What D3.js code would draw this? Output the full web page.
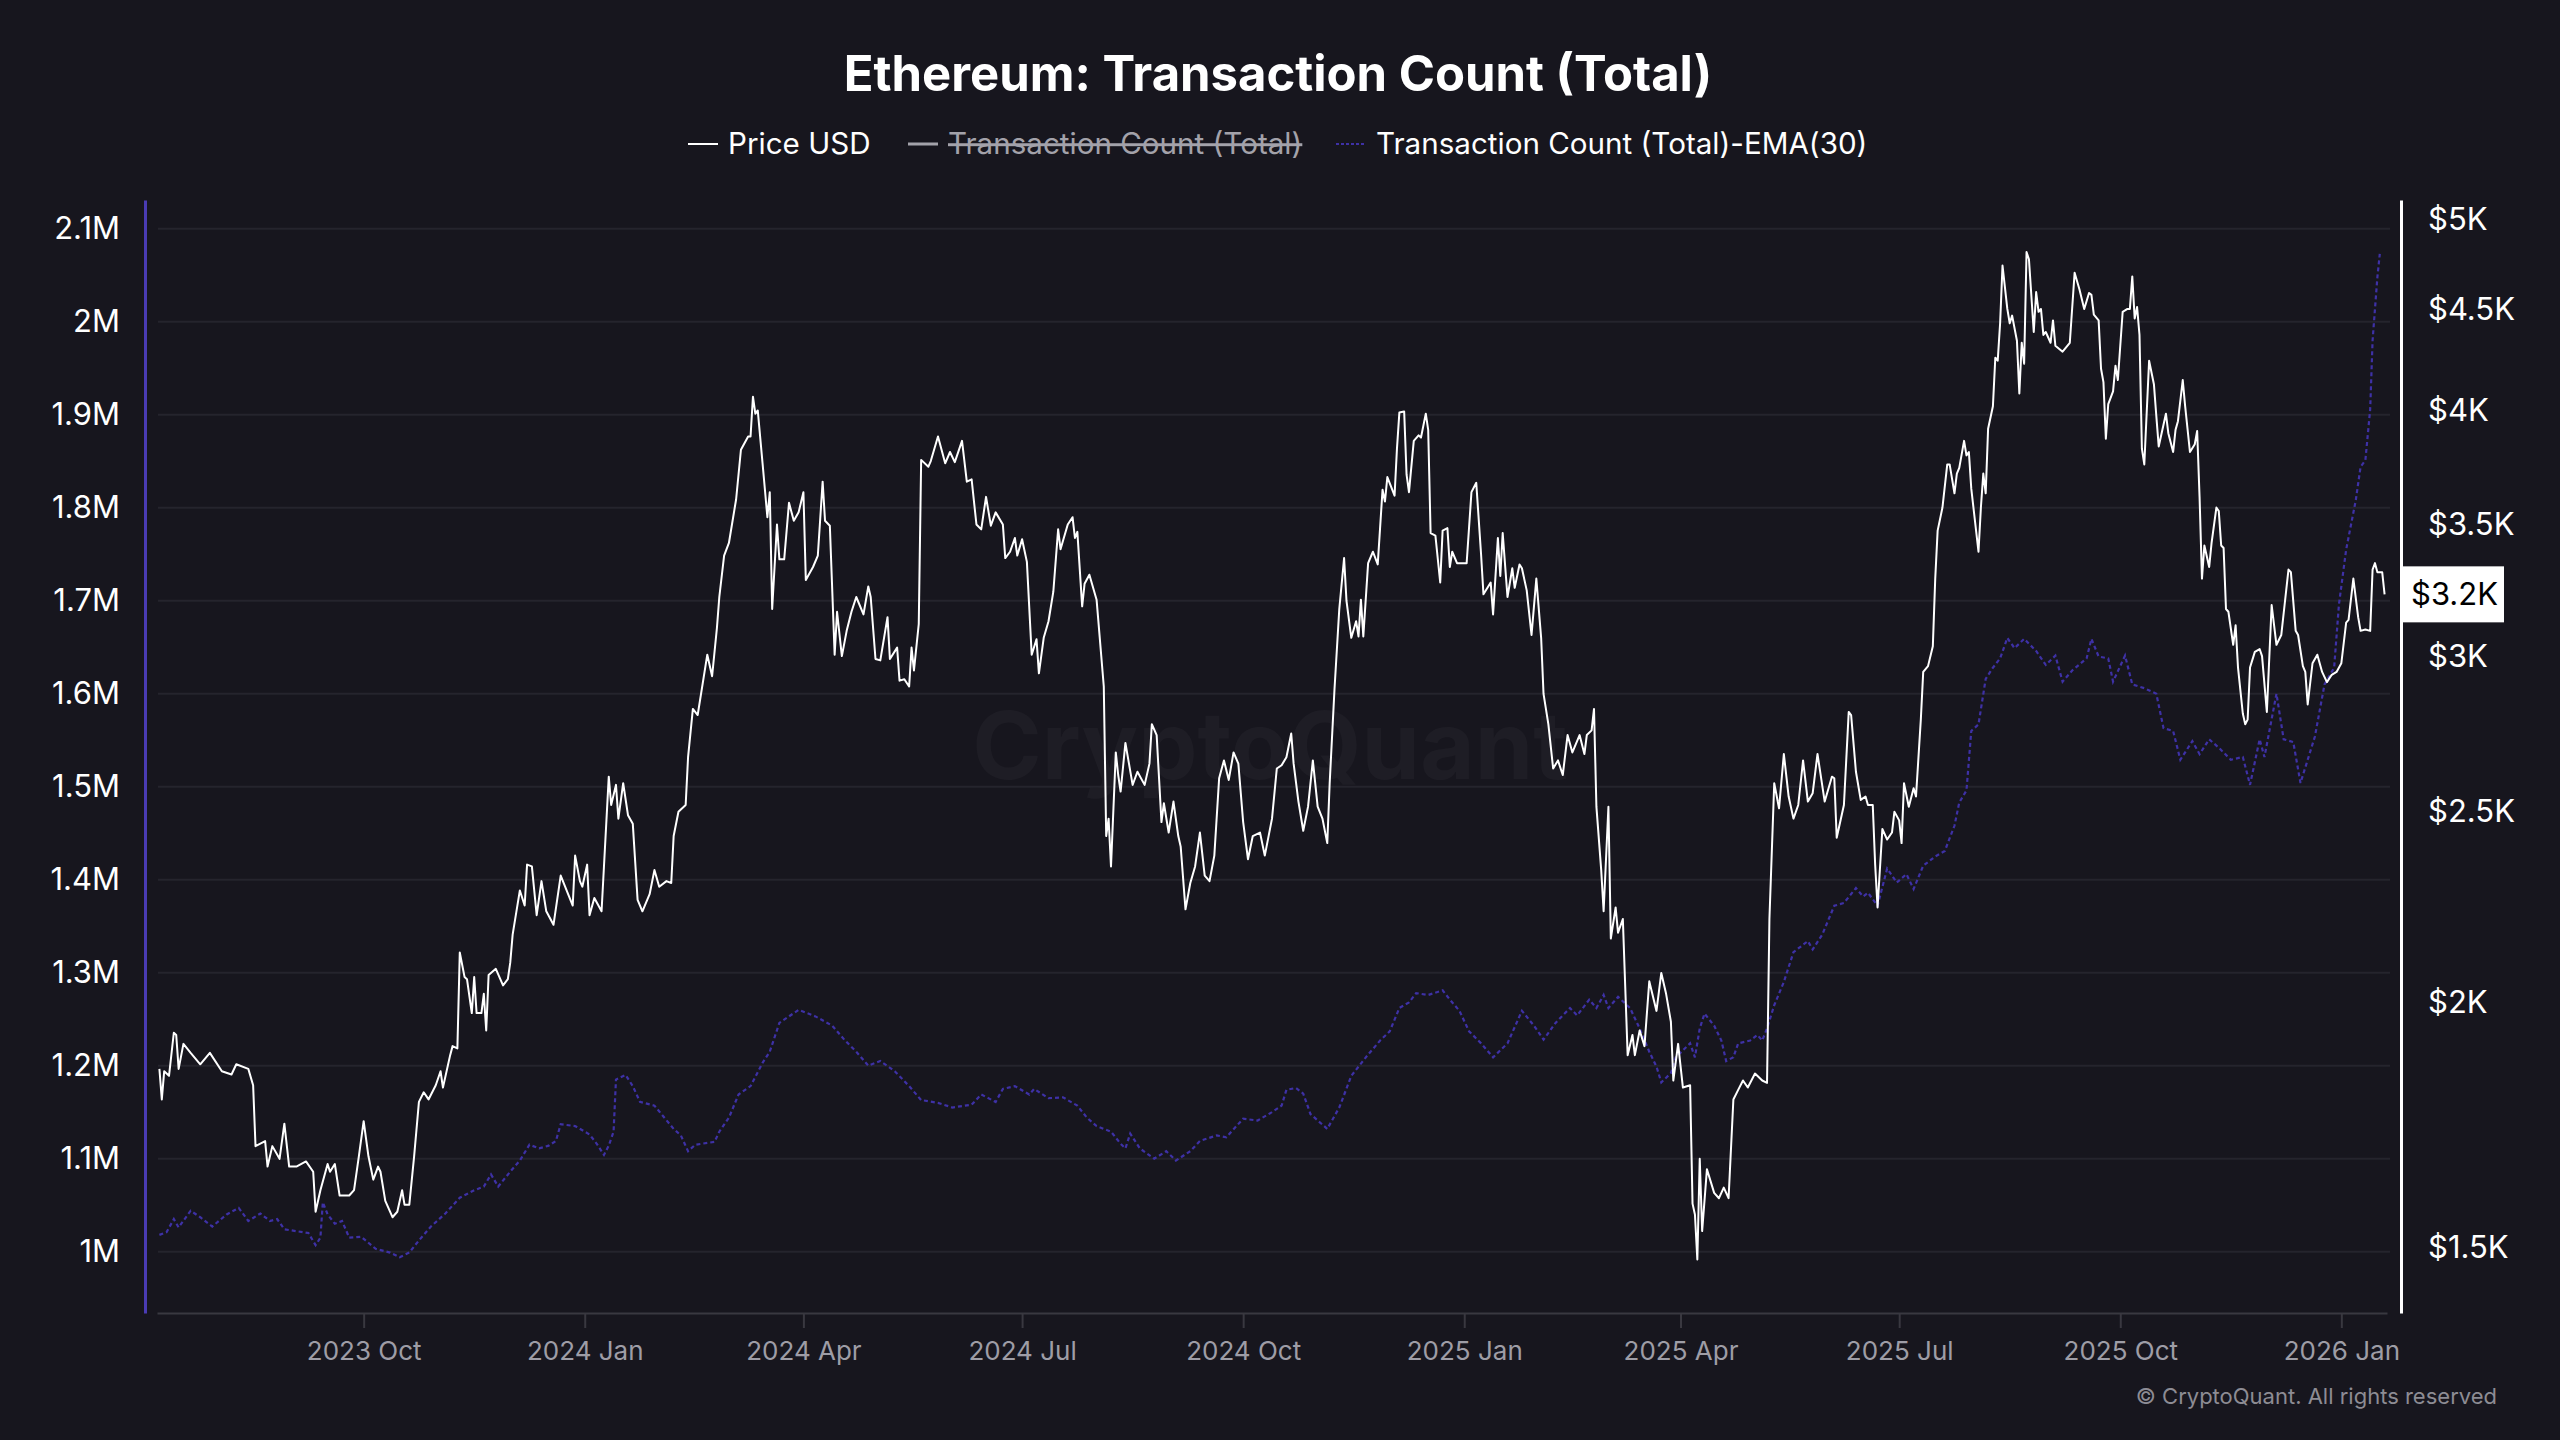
<!DOCTYPE html>
<html>
<head>
<meta charset="utf-8">
<script src="https://cdn.jsdelivr.net/npm/d3@7"></script>
<style>
  body { margin: 0; background: #17161e; }
  svg { display: block; font-family: Inter, "Noto Sans", sans-serif; }
</style>
</head>
<body>
<script>
// ETH price (USD)
const priceUSD = [
  ["2023-07-08",1850],["2023-07-09",1785],["2023-07-10",1845],["2023-07-12",1835],["2023-07-14",1930],["2023-07-15",1925],
  ["2023-07-16",1850],["2023-07-18",1905],["2023-07-21",1885],["2023-07-25",1860],["2023-07-29",1885],["2023-08-03",1845],
  ["2023-08-07",1838],["2023-08-09",1860],["2023-08-14",1850],["2023-08-16",1815],["2023-08-17",1690],["2023-08-21",1700],
  ["2023-08-22",1650],["2023-08-24",1690],["2023-08-27",1665],["2023-08-29",1735],["2023-08-31",1650],["2023-09-03",1650],
  ["2023-09-07",1660],["2023-09-10",1640],["2023-09-11",1565],["2023-09-13",1605],["2023-09-16",1655],["2023-09-17",1640],
  ["2023-09-19",1655],["2023-09-21",1595],["2023-09-25",1595],["2023-09-27",1605],["2023-09-29",1670],["2023-10-01",1740],
  ["2023-10-03",1670],["2023-10-05",1625],["2023-10-07",1650],["2023-10-08",1640],["2023-10-10",1585],["2023-10-13",1555],
  ["2023-10-15",1565],["2023-10-17",1605],["2023-10-18",1578],["2023-10-20",1578],["2023-10-22",1670],["2023-10-24",1780],
  ["2023-10-26",1800],["2023-10-28",1785],["2023-10-31",1815],["2023-11-02",1845],["2023-11-03",1810],["2023-11-06",1880],
  ["2023-11-07",1900],["2023-11-09",1895],["2023-11-10",2120],["2023-11-12",2060],["2023-11-13",2055],["2023-11-15",1975],
  ["2023-11-16",2060],["2023-11-17",1975],["2023-11-19",1975],["2023-11-20",2020],["2023-11-21",1935],["2023-11-22",2065],
  ["2023-11-25",2080],["2023-11-28",2040],["2023-11-30",2055],["2023-12-01",2095],["2023-12-02",2165],["2023-12-05",2280],
  ["2023-12-07",2240],["2023-12-08",2350],["2023-12-10",2345],["2023-12-12",2215],["2023-12-14",2305],["2023-12-16",2225],
  ["2023-12-19",2190],["2023-12-22",2320],["2023-12-27",2240],["2023-12-28",2375],["2023-12-30",2305],["2023-12-31",2290],
  ["2024-01-02",2350],["2024-01-03",2215],["2024-01-05",2260],["2024-01-08",2225],["2024-01-09",2345],["2024-01-11",2605],
  ["2024-01-12",2520],["2024-01-14",2580],["2024-01-15",2480],["2024-01-17",2585],["2024-01-19",2490],["2024-01-21",2465],
  ["2024-01-23",2255],["2024-01-25",2225],["2024-01-28",2270],["2024-01-30",2335],["2024-02-01",2290],["2024-02-04",2305],
  ["2024-02-06",2300],["2024-02-07",2430],["2024-02-09",2500],["2024-02-12",2520],["2024-02-13",2665],["2024-02-15",2820],
  ["2024-02-17",2800],["2024-02-21",3005],["2024-02-23",2930],["2024-02-25",3100],["2024-02-26",3215],["2024-02-28",3375],
  ["2024-03-01",3425],["2024-03-04",3605],["2024-03-06",3820],["2024-03-09",3880],["2024-03-10",3880],["2024-03-11",4065],
  ["2024-03-12",3985],["2024-03-13",4000],["2024-03-15",3760],["2024-03-17",3530],["2024-03-18",3635],["2024-03-19",3170],
  ["2024-03-21",3500],["2024-03-22",3360],["2024-03-24",3360],["2024-03-26",3590],["2024-03-28",3515],["2024-03-30",3550],
  ["2024-04-01",3635],["2024-04-02",3280],["2024-04-05",3330],["2024-04-07",3375],["2024-04-09",3680],["2024-04-10",3515],
  ["2024-04-12",3495],["2024-04-14",3005],["2024-04-15",3160],["2024-04-17",3000],["2024-04-19",3090],["2024-04-21",3160],
  ["2024-04-23",3215],["2024-04-26",3150],["2024-04-28",3255],["2024-04-29",3215],["2024-05-01",2990],["2024-05-03",2985],
  ["2024-05-06",3140],["2024-05-07",2990],["2024-05-10",3030],["2024-05-11",2915],["2024-05-13",2920],["2024-05-15",2895],
  ["2024-05-16",3030],["2024-05-17",2950],["2024-05-19",3115],["2024-05-20",3775],["2024-05-23",3745],["2024-05-24",3770],
  ["2024-05-27",3880],["2024-05-30",3760],["2024-06-01",3810],["2024-06-03",3765],["2024-06-06",3860],["2024-06-08",3680],
  ["2024-06-10",3690],["2024-06-12",3500],["2024-06-14",3480],["2024-06-16",3615],["2024-06-18",3495],["2024-06-20",3550],
  ["2024-06-23",3500],["2024-06-24",3365],["2024-06-26",3390],["2024-06-28",3445],["2024-06-29",3375],["2024-07-01",3440],
  ["2024-07-03",3350],["2024-07-05",3005],["2024-07-07",3060],["2024-07-08",2940],["2024-07-10",3065],["2024-07-12",3125],
  ["2024-07-14",3235],["2024-07-16",3480],["2024-07-17",3400],["2024-07-20",3500],["2024-07-22",3530],["2024-07-23",3445],
  ["2024-07-24",3470],["2024-07-26",3180],["2024-07-27",3265],["2024-07-29",3300],["2024-08-01",3205],["2024-08-04",2895],
  ["2024-08-05",2430],["2024-08-06",2480],["2024-08-07",2345],["2024-08-09",2680],["2024-08-10",2610],["2024-08-11",2560],
  ["2024-08-13",2710],["2024-08-16",2580],["2024-08-18",2620],["2024-08-21",2580],["2024-08-23",2645],["2024-08-24",2770],
  ["2024-08-26",2735],["2024-08-28",2470],["2024-08-29",2525],["2024-08-31",2440],["2024-09-02",2530],["2024-09-04",2430],
  ["2024-09-05",2400],["2024-09-07",2230],["2024-09-09",2300],["2024-09-11",2345],["2024-09-13",2440],["2024-09-15",2320],
  ["2024-09-17",2305],["2024-09-19",2375],["2024-09-21",2600],["2024-09-23",2655],["2024-09-25",2595],["2024-09-27",2680],
  ["2024-09-29",2645],["2024-10-01",2470],["2024-10-03",2365],["2024-10-05",2430],["2024-10-08",2440],["2024-10-10",2375],
  ["2024-10-13",2480],["2024-10-15",2630],["2024-10-17",2640],["2024-10-19",2665],["2024-10-21",2740],["2024-10-22",2645],
  ["2024-10-24",2530],["2024-10-26",2445],["2024-10-28",2515],["2024-10-30",2655],["2024-11-01",2515],["2024-11-03",2480],
  ["2024-11-05",2410],["2024-11-06",2585],["2024-11-08",2885],["2024-11-10",3170],["2024-11-12",3365],["2024-11-13",3200],
  ["2024-11-15",3065],["2024-11-17",3125],["2024-11-18",3070],["2024-11-19",3205],["2024-11-20",3070],["2024-11-22",3345],
  ["2024-11-24",3390],["2024-11-26",3340],["2024-11-28",3645],["2024-11-29",3595],["2024-11-30",3700],["2024-12-03",3620],
  ["2024-12-04",3825],["2024-12-05",3990],["2024-12-07",3995],["2024-12-08",3710],["2024-12-09",3635],["2024-12-11",3860],
  ["2024-12-13",3885],["2024-12-14",3875],["2024-12-16",3985],["2024-12-17",3910],["2024-12-18",3465],["2024-12-20",3455],
  ["2024-12-22",3270],["2024-12-23",3475],["2024-12-25",3485],["2024-12-26",3330],["2024-12-27",3390],["2024-12-29",3345],
  ["2025-01-02",3345],["2025-01-04",3635],["2025-01-06",3675],["2025-01-08",3380],["2025-01-09",3225],["2025-01-12",3270],
  ["2025-01-13",3150],["2025-01-15",3445],["2025-01-16",3295],["2025-01-17",3465],["2025-01-19",3215],["2025-01-21",3325],
  ["2025-01-22",3250],["2025-01-24",3340],["2025-01-25",3325],["2025-01-27",3240],["2025-01-29",3075],["2025-01-31",3285],
  ["2025-02-02",3065],["2025-02-03",2870],["2025-02-05",2770],["2025-02-07",2630],["2025-02-09",2655],["2025-02-11",2610],
  ["2025-02-13",2735],["2025-02-15",2680],["2025-02-18",2735],["2025-02-20",2675],["2025-02-21",2735],["2025-02-23",2750],
  ["2025-02-24",2820],["2025-02-25",2515],["2025-02-27",2335],["2025-02-28",2225],["2025-03-02",2515],["2025-03-03",2155],
  ["2025-03-05",2235],["2025-03-06",2170],["2025-03-08",2205],["2025-03-10",1880],["2025-03-12",1925],["2025-03-13",1880],
  ["2025-03-15",1935],["2025-03-17",1900],["2025-03-19",2050],["2025-03-22",1980],["2025-03-24",2070],["2025-03-26",2020],
  ["2025-03-28",1955],["2025-03-29",1825],["2025-03-31",1905],["2025-04-02",1810],["2025-04-05",1815],["2025-04-06",1580],
  ["2025-04-07",1560],["2025-04-08",1480],["2025-04-09",1665],["2025-04-10",1530],["2025-04-12",1645],["2025-04-15",1600],
  ["2025-04-17",1590],["2025-04-19",1610],["2025-04-21",1590],["2025-04-23",1785],["2025-04-25",1805],["2025-04-27",1825],
  ["2025-04-29",1810],["2025-05-02",1840],["2025-05-05",1825],["2025-05-07",1820],["2025-05-08",2205],["2025-05-10",2585],
  ["2025-05-12",2510],["2025-05-14",2675],["2025-05-16",2545],["2025-05-18",2480],["2025-05-20",2520],["2025-05-22",2655],
  ["2025-05-24",2530],["2025-05-26",2555],["2025-05-28",2675],["2025-05-31",2530],["2025-06-03",2605],["2025-06-04",2600],
  ["2025-06-05",2425],["2025-06-08",2520],["2025-06-10",2810],["2025-06-11",2800],["2025-06-13",2620],["2025-06-15",2535],
  ["2025-06-17",2545],["2025-06-18",2520],["2025-06-20",2520],["2025-06-21",2350],["2025-06-22",2235],["2025-06-24",2450],
  ["2025-06-26",2420],["2025-06-28",2440],["2025-06-29",2500],["2025-07-01",2475],["2025-07-02",2410],["2025-07-03",2585],
  ["2025-07-05",2515],["2025-07-07",2570],["2025-07-08",2545],["2025-07-10",2785],["2025-07-11",2945],["2025-07-13",2965],
  ["2025-07-15",3035],["2025-07-16",3285],["2025-07-17",3475],["2025-07-19",3570],["2025-07-21",3755],["2025-07-22",3755],
  ["2025-07-24",3630],["2025-07-25",3715],["2025-07-26",3740],["2025-07-28",3860],["2025-07-29",3795],["2025-07-30",3810],
  ["2025-07-31",3650],["2025-08-03",3390],["2025-08-04",3570],["2025-08-05",3715],["2025-08-06",3630],["2025-08-07",3915],
  ["2025-08-09",4020],["2025-08-10",4255],["2025-08-11",4240],["2025-08-12",4430],["2025-08-13",4740],["2025-08-15",4505],
  ["2025-08-16",4430],["2025-08-17",4470],["2025-08-19",4340],["2025-08-20",4080],["2025-08-21",4330],["2025-08-22",4225],
  ["2025-08-23",4815],["2025-08-24",4775],["2025-08-26",4385],["2025-08-27",4595],["2025-08-28",4490],["2025-08-29",4505],
  ["2025-08-30",4370],["2025-08-31",4385],["2025-09-02",4330],["2025-09-03",4445],["2025-09-04",4315],["2025-09-07",4285],
  ["2025-09-10",4330],["2025-09-12",4700],["2025-09-14",4610],["2025-09-16",4505],["2025-09-18",4590],["2025-09-19",4580],
  ["2025-09-20",4475],["2025-09-22",4445],["2025-09-23",4200],["2025-09-24",4135],["2025-09-25",3870],["2025-09-26",4030],
  ["2025-09-28",4090],["2025-09-29",4215],["2025-09-30",4145],["2025-10-02",4490],["2025-10-04",4505],["2025-10-05",4505],
  ["2025-10-06",4680],["2025-10-07",4455],["2025-10-08",4515],["2025-10-09",4370],["2025-10-10",3825],["2025-10-11",3755],
  ["2025-10-13",4240],["2025-10-15",4125],["2025-10-16",3975],["2025-10-17",3835],["2025-10-20",3985],["2025-10-21",3895],
  ["2025-10-23",3810],["2025-10-24",3910],["2025-10-25",3950],["2025-10-27",4145],["2025-10-28",4020],["2025-10-30",3810],
  ["2025-11-01",3845],["2025-11-02",3905],["2025-11-03",3615],["2025-11-04",3285],["2025-11-05",3415],["2025-11-07",3330],
  ["2025-11-08",3425],["2025-11-10",3570],["2025-11-11",3555],["2025-11-12",3415],["2025-11-13",3405],["2025-11-14",3170],
  ["2025-11-15",3160],["2025-11-17",3040],["2025-11-18",3110],["2025-11-19",2960],["2025-11-21",2805],["2025-11-22",2770],
  ["2025-11-23",2785],["2025-11-24",2960],["2025-11-26",3015],["2025-11-28",3025],["2025-11-29",3000],["2025-12-01",2810],
  ["2025-12-03",3185],["2025-12-05",3040],["2025-12-07",3075],["2025-12-10",3320],["2025-12-11",3310],["2025-12-13",3090],
  ["2025-12-14",3075],["2025-12-16",2965],["2025-12-17",2945],["2025-12-18",2835],["2025-12-20",2975],["2025-12-22",3005],
  ["2025-12-24",2945],["2025-12-26",2910],["2025-12-28",2935],["2025-12-30",2945],["2026-01-01",2975],["2026-01-03",3120],
  ["2026-01-04",3130],["2026-01-06",3285],["2026-01-08",3140],["2026-01-09",3090],["2026-01-11",3095],["2026-01-13",3090],
  ["2026-01-14",3320],["2026-01-15",3345],["2026-01-16",3310],["2026-01-18",3310],["2026-01-19",3225]
];

// Transaction Count (Total) EMA(30), in millions
const txEMA30 = [
  ["2023-07-08",1.018],["2023-07-11",1.021],["2023-07-14",1.035],["2023-07-16",1.026],["2023-07-21",1.044],["2023-07-25",1.037],
  ["2023-07-30",1.027],["2023-08-05",1.040],["2023-08-10",1.047],["2023-08-14",1.033],["2023-08-19",1.041],["2023-08-23",1.033],
  ["2023-08-26",1.035],["2023-08-29",1.024],["2023-09-03",1.022],["2023-09-08",1.020],["2023-09-11",1.007],["2023-09-13",1.015],
  ["2023-09-14",1.053],["2023-09-16",1.040],["2023-09-19",1.030],["2023-09-22",1.033],["2023-09-25",1.015],["2023-09-30",1.016],
  ["2023-10-06",1.003],["2023-10-12",0.999],["2023-10-16",0.994],["2023-10-20",0.999],["2023-10-24",1.012],["2023-10-29",1.027],
  ["2023-11-04",1.041],["2023-11-10",1.058],["2023-11-16",1.066],["2023-11-20",1.070],["2023-11-23",1.083],["2023-11-26",1.070],
  ["2023-12-01",1.086],["2023-12-05",1.098],["2023-12-09",1.115],["2023-12-13",1.111],["2023-12-17",1.114],["2023-12-20",1.119],
  ["2023-12-22",1.137],["2023-12-28",1.135],["2024-01-03",1.126],["2024-01-06",1.116],["2024-01-09",1.104],["2024-01-11",1.114],
  ["2024-01-13",1.129],["2024-01-14",1.185],["2024-01-18",1.190],["2024-01-21",1.178],["2024-01-24",1.161],["2024-01-30",1.157],
  ["2024-02-07",1.132],["2024-02-10",1.125],["2024-02-13",1.108],["2024-02-16",1.115],["2024-02-24",1.118],["2024-02-26",1.129],
  ["2024-03-01",1.144],["2024-03-05",1.169],["2024-03-10",1.178],["2024-03-15",1.203],["2024-03-18",1.215],["2024-03-22",1.246],
  ["2024-03-30",1.260],["2024-04-06",1.253],["2024-04-13",1.243],["2024-04-18",1.228],["2024-04-23",1.215],["2024-04-28",1.200],
  ["2024-05-03",1.205],["2024-05-09",1.194],["2024-05-15",1.178],["2024-05-20",1.163],["2024-05-27",1.160],["2024-06-02",1.155],
  ["2024-06-10",1.158],["2024-06-14",1.169],["2024-06-20",1.161],["2024-06-23",1.175],["2024-06-28",1.178],["2024-07-04",1.169],
  ["2024-07-06",1.175],["2024-07-12",1.165],["2024-07-18",1.166],["2024-07-24",1.157],["2024-07-28",1.144],["2024-08-01",1.135],
  ["2024-08-07",1.129],["2024-08-11",1.116],["2024-08-13",1.111],["2024-08-15",1.127],["2024-08-19",1.111],["2024-08-25",1.100],
  ["2024-08-30",1.108],["2024-09-03",1.098],["2024-09-09",1.108],["2024-09-13",1.119],["2024-09-20",1.125],["2024-09-24",1.123],
  ["2024-10-01",1.143],["2024-10-07",1.141],["2024-10-13",1.150],["2024-10-17",1.157],["2024-10-19",1.174],["2024-10-23",1.176],
  ["2024-10-26",1.170],["2024-10-29",1.148],["2024-11-05",1.132],["2024-11-10",1.155],["2024-11-15",1.189],["2024-11-22",1.212],
  ["2024-11-27",1.227],["2024-12-01",1.237],["2024-12-05",1.262],["2024-12-09",1.268],["2024-12-12",1.278],["2024-12-17",1.276],
  ["2024-12-23",1.281],["2024-12-26",1.271],["2024-12-30",1.259],["2025-01-03",1.237],["2025-01-08",1.224],["2025-01-13",1.209],
  ["2025-01-19",1.224],["2025-01-25",1.259],["2025-01-30",1.243],["2025-02-03",1.228],["2025-02-08",1.246],["2025-02-14",1.262],
  ["2025-02-17",1.254],["2025-02-22",1.271],["2025-02-25",1.262],["2025-02-28",1.276],["2025-03-02",1.262],["2025-03-06",1.274],
  ["2025-03-11",1.262],["2025-03-15",1.240],["2025-03-19",1.215],["2025-03-22",1.199],["2025-03-24",1.182],["2025-03-28",1.192],
  ["2025-03-30",1.209],["2025-04-05",1.224],["2025-04-07",1.209],["2025-04-09",1.240],["2025-04-11",1.256],["2025-04-15",1.243],
  ["2025-04-18",1.227],["2025-04-20",1.205],["2025-04-23",1.209],["2025-04-25",1.224],["2025-04-30",1.227],["2025-05-03",1.233],
  ["2025-05-05",1.227],["2025-05-07",1.240],["2025-05-10",1.265],["2025-05-14",1.290],["2025-05-18",1.322],["2025-05-24",1.334],
  ["2025-05-26",1.325],["2025-05-30",1.341],["2025-06-04",1.372],["2025-06-08",1.375],["2025-06-13",1.391],["2025-06-16",1.382],
  ["2025-06-18",1.386],["2025-06-22",1.372],["2025-06-26",1.412],["2025-06-30",1.397],["2025-07-04",1.406],["2025-07-07",1.390],
  ["2025-07-11",1.415],["2025-07-16",1.425],["2025-07-20",1.431],["2025-07-24",1.458],["2025-07-26",1.483],["2025-07-29",1.496],
  ["2025-07-31",1.560],["2025-08-03",1.567],["2025-08-06",1.616],["2025-08-09",1.628],["2025-08-12",1.638],["2025-08-15",1.660],
  ["2025-08-18",1.649],["2025-08-22",1.659],["2025-08-27",1.646],["2025-08-31",1.631],["2025-09-04",1.641],["2025-09-07",1.613],
  ["2025-09-11",1.625],["2025-09-17",1.638],["2025-09-19",1.659],["2025-09-22",1.640],["2025-09-26",1.638],["2025-09-28",1.613],
  ["2025-10-03",1.641],["2025-10-06",1.610],["2025-10-11",1.606],["2025-10-16",1.600],["2025-10-19",1.563],["2025-10-23",1.560],
  ["2025-10-26",1.529],["2025-10-31",1.549],["2025-11-03",1.535],["2025-11-07",1.551],["2025-11-11",1.542],["2025-11-16",1.529],
  ["2025-11-21",1.532],["2025-11-24",1.502],["2025-11-28",1.551],["2025-11-30",1.532],["2025-12-05",1.600],["2025-12-08",1.551],
  ["2025-12-12",1.548],["2025-12-15",1.504],["2025-12-18",1.529],["2025-12-21",1.554],["2025-12-25",1.610],["2025-12-29",1.628],
  ["2025-12-31",1.696],["2026-01-03",1.755],["2026-01-07",1.808],["2026-01-09",1.844],["2026-01-11",1.851],["2026-01-13",1.906],
  ["2026-01-14",1.980],["2026-01-16",2.048],["2026-01-17",2.073]
];

const txTicks = [1.0, 1.1, 1.2, 1.3, 1.4, 1.5, 1.6, 1.7, 1.8, 1.9, 2.0, 2.1];
const priceTicks = [1500, 2000, 2500, 3000, 3500, 4000, 4500, 5000];
const dateTicks = ["2023-10-01","2024-01-01","2024-04-01","2024-07-01","2024-10-01",
                   "2025-01-01","2025-04-01","2025-07-01","2025-10-01","2026-01-01"];
const legendItems = ["Price USD", "Transaction Count (Total)", "Transaction Count (Total)-EMA(30)"];

const width = 2560, height = 1440;
const plot = {left: 157, right: 2387, top: 200, bottom: 1313};
const bg = "#17161e", purple = "#3e31a6";

const parseDate = d3.timeParse("%Y-%m-%d");
const price = priceUSD.map(([d, v]) => ({date: parseDate(d), v}));
const ema = txEMA30.map(([d, v]) => ({date: parseDate(d), v: v * 1e6}));

let svg = d3.select("body").append("svg")
    .attr("width", width)
    .attr("height", height);

svg.append("rect").attr("width", width).attr("height", height).attr("fill", bg);

const x = d3.scaleTime()
    .domain([parseDate("2023-07-07"), parseDate("2026-01-20")])
    .range([plot.left, plot.right]);

const yTx = d3.scaleLinear()
    .domain([934000, 2131000])
    .range([plot.bottom, plot.top]);

const yPrice = d3.scaleLog()
    .domain([1390, 5118])
    .range([plot.bottom, plot.top]);

// title + legend
svg.append("text")
    .attr("x", 1278).attr("y", 91)
    .attr("text-anchor", "middle")
    .attr("font-size", 49).attr("font-weight", 700)
    .attr("fill", "#ffffff")
    .text("Ethereum: Transaction Count (Total)");

const legend = svg.append("g").attr("font-size", 29.6);
const legendX = [688, 908, 1336];
legendItems.forEach((name, i) => {
    const g = legend.append("g").attr("transform", `translate(${legendX[i]},144)`);
    g.append("line")
        .attr("x1", 0).attr("x2", 30)
        .attr("stroke", i === 0 ? "#ffffff" : i === 1 ? "#a3a2aa" : purple)
        .attr("stroke-width", i === 1 ? 3 : 2)
        .attr("stroke-dasharray", i === 2 ? "3,2" : null);
    g.append("text")
        .attr("x", 40).attr("dy", "0.35em")
        .attr("fill", i === 1 ? "#a3a2aa" : "#ffffff")
        .attr("text-decoration", i === 1 ? "line-through" : null)
        .text(name);
});

// watermark
svg.append("text")
    .attr("x", 1270).attr("y", 746)
    .attr("text-anchor", "middle").attr("dy", "0.35em")
    .attr("font-size", 94).attr("font-weight", 700)
    .attr("fill", "#ffffff").attr("fill-opacity", 0.03)
    .text("CryptoQuant");

// gridlines
svg.append("g").selectAll("line")
    .data(txTicks)
    .join("line")
    .attr("x1", plot.left + 1).attr("x2", 2390)
    .attr("y1", d => yTx(d * 1e6)).attr("y2", d => yTx(d * 1e6))
    .attr("stroke", "#25242d").attr("stroke-width", 2);

// left axis
const leftAxis = svg.append("g")
    .attr("transform", "translate(145,0)")
    .call(d3.axisLeft(yTx)
        .tickValues(txTicks.map(d => d * 1e6))
        .tickFormat(d => d3.format("~g")(d / 1e6) + "M")
        .tickSize(0).tickPadding(25));
leftAxis.select(".domain").attr("stroke", "#4a3bb4").attr("stroke-width", 3);
leftAxis.selectAll("text")
    .attr("fill", "#ffffff").attr("font-size", 31).attr("font-family", "Inter, sans-serif");

// right axis
const rightAxis = svg.append("g")
    .attr("transform", "translate(2401,0)")
    .call(d3.axisRight(yPrice)
        .tickValues(priceTicks)
        .tickFormat(d => "$" + d / 1000 + "K")
        .tickSize(0).tickPadding(27));
rightAxis.select(".domain").attr("stroke", "#ffffff").attr("stroke-width", 3);
rightAxis.selectAll("text")
    .attr("fill", "#ffffff").attr("font-size", 31).attr("font-family", "Inter, sans-serif");

// bottom axis
const bottomAxis = svg.append("g")
    .attr("transform", `translate(0,${plot.bottom})`)
    .call(d3.axisBottom(x)
        .tickValues(dateTicks.map(parseDate))
        .tickFormat(d3.timeFormat("%Y %b"))
        .tickSizeInner(15).tickSizeOuter(0).tickPadding(14));
bottomAxis.select(".domain").attr("stroke", "#393840").attr("stroke-width", 2);
bottomAxis.selectAll(".tick line").attr("stroke", "#393840").attr("stroke-width", 2);
bottomAxis.selectAll("text")
    .attr("fill", "#9e9da6").attr("font-size", 26).attr("font-family", "Inter, sans-serif");

// series
svg.append("path")
    .datum(ema)
    .attr("fill", "none")
    .attr("stroke", purple)
    .attr("stroke-width", 2.2)
    .attr("stroke-dasharray", "4,3")
    .attr("d", d3.line().x(d => x(d.date)).y(d => yTx(d.v)));

svg.append("path")
    .datum(price)
    .attr("fill", "none")
    .attr("stroke", "#ffffff")
    .attr("stroke-width", 2)
    .attr("stroke-linejoin", "round")
    .attr("d", d3.line().x(d => x(d.date)).y(d => yPrice(d.v)));

// last price tag
const last = price[price.length - 1];
const tagY = yPrice(last.v);
svg.append("rect")
    .attr("x", 2402).attr("y", tagY - 28)
    .attr("width", 102).attr("height", 56)
    .attr("fill", "#ffffff");
svg.append("text")
    .attr("x", 2411).attr("y", tagY).attr("dy", "0.35em")
    .attr("font-size", 31).attr("fill", "#000000")
    .text("$" + d3.format(".1f")(last.v / 1000) + "K");

// footer
svg.append("text")
    .attr("x", 2497).attr("y", 1396)
    .attr("text-anchor", "end").attr("dy", "0.35em")
    .attr("font-size", 22).attr("fill", "#8d8c94")
    .text("© CryptoQuant. All rights reserved");
</script>
</body>
</html>
